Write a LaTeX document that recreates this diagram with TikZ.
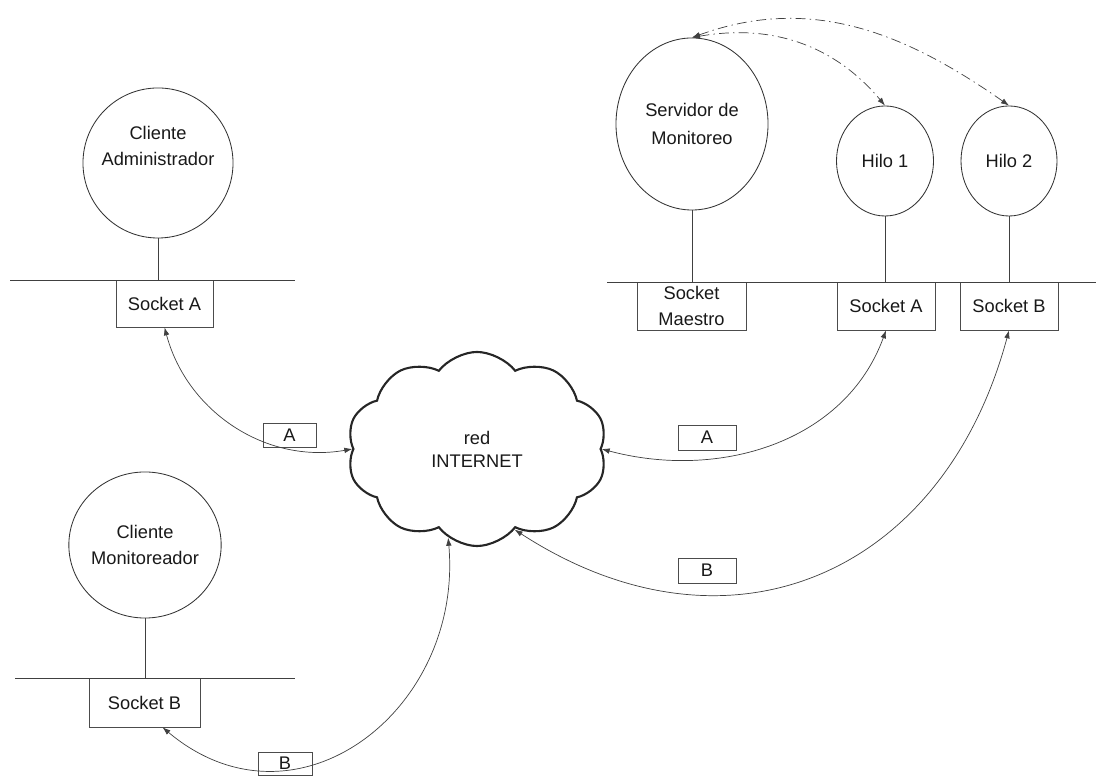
\documentclass[tikz,border=0pt]{standalone}
\usepackage{fontspec}
\setmainfont{Liberation Sans}
\usetikzlibrary{shapes.geometric,shapes.symbols,arrows.meta}

\begin{document}
\begin{tikzpicture}[x=0.025cm,y=0.025cm,
        font=\fontsize{13}{18.5}\selectfont,
        proc/.style={ellipse,draw=black!80,line width=0.6pt,align=center,text=black!90,inner sep=0pt},
        sock/.style={rectangle,draw=black!70,line width=0.5pt,align=center,text=black!90,inner sep=1pt},
        tag/.style={rectangle,draw=black!70,line width=0.5pt,text=black!90,inner sep=0pt},
        bus/.style={draw=black!75,line width=0.6pt},
        link/.style={<->,>={Latex[length=2mm,width=1.4mm]},draw=black!75,line width=0.5pt},
        hilolink/.style={link,dash pattern=on 7pt off 3pt on 1pt off 3pt}]
        \useasboundingbox (0,0) rectangle (1096,780);

        % procesos
        \node[proc,minimum width=3.75cm,minimum height=3.75cm,
              label={[align=center,text=black!90,yshift=0.42cm]center:Cliente\\Administrador}] (adm) at (158,617) {};
        \node[proc,minimum width=3.6cm,minimum height=3.65cm] (mon) at (145,235) {Cliente\\Monitoreador};
        \node[proc,minimum width=3.8cm,minimum height=4.3cm] (srv) at (692,656) {Servidor de\\[2pt]Monitoreo};
        \node[proc,minimum width=2.425cm,minimum height=2.75cm] (hilo1) at (885,619) {Hilo 1};
        \node[proc,minimum width=2.4cm,minimum height=2.75cm] (hilo2) at (1009,619) {Hilo 2};

        % sockets
        \node[sock,minimum width=2.425cm,minimum height=1.175cm] (sa1) at (164.5,476.5) {Socket A};
        \node[sock,minimum width=2.775cm,minimum height=1.225cm] (sb1) at (144.5,77.5) {Socket B};
        \node[sock,minimum width=2.725cm,minimum height=1.2cm,inner sep=0pt] (sm) at (691.5,474) {Socket\\[0.5pt]Maestro};
        \node[sock,minimum width=2.45cm,minimum height=1.2cm] (sa2) at (886,474) {Socket A};
        \node[sock,minimum width=2.45cm,minimum height=1.2cm] (sb2) at (1009,474) {Socket B};

        % red
        \node[cloud,cloud puffs=10,cloud puff arc=105,shape border rotate=18,cloud ignores aspect,
              minimum width=6.5cm,minimum height=4.85cm,
              draw=black!85,line width=1.5pt,align=center,text=black!90] (net) at (477,331) {red\\[-2pt]INTERNET};

        % etiquetas
        \node[tag,minimum width=1.325cm,minimum height=0.6cm] (la1) at (289.5,345) {A};
        \node[tag,minimum width=1.45cm,minimum height=0.625cm] (la2) at (707,342.5) {A};
        \node[tag,minimum width=1.45cm,minimum height=0.625cm] (lb2) at (707,209.5) {B};
        \node[tag,minimum width=1.35cm,minimum height=0.575cm] (lb1) at (285,16.5) {B};

        % buses
        \coordinate (ba1) at (10,500);
        \coordinate (ba2) at (295,500);
        \coordinate (bb1) at (15,102);
        \coordinate (bb2) at (295,102);
        \coordinate (bs1) at (607,498);
        \coordinate (bs2) at (1096,498);
        \draw[bus] (ba1) -- (ba2);
        \draw[bus] (bb1) -- (bb2);
        \draw[bus] (bs1) -- (bs2);

        \draw[bus] (adm.south) -- (adm.south |- ba1);
        \draw[bus] (mon.south) -- (mon.south |- bb1);
        \draw[bus] (srv.south) -- (srv.south |- bs1);
        \draw[bus] (hilo1.south) -- (hilo1.south |- bs1);
        \draw[bus] (hilo2.south) -- (hilo2.south |- bs1);

        % conexiones
        \draw[link] (sa1.south) to[out=-75,in=190] (net.west);
        \draw[link] ([xshift=0.45cm]sb1.south) to[out=-40,in=-85,looseness=1.3] (net.-108);
        \draw[link] (net.east) to[out=-15,in=-110] (sa2.south);
        \draw[link] (net.-65) to[out=-33,in=-105,looseness=1.22] (sb2.south);

        \draw[hilolink] (srv.north) to[out=10,in=130] (hilo1.north);
        \draw[hilolink] (srv.north) to[out=20,in=145] (hilo2.north);
    \end{tikzpicture}
\end{document}
